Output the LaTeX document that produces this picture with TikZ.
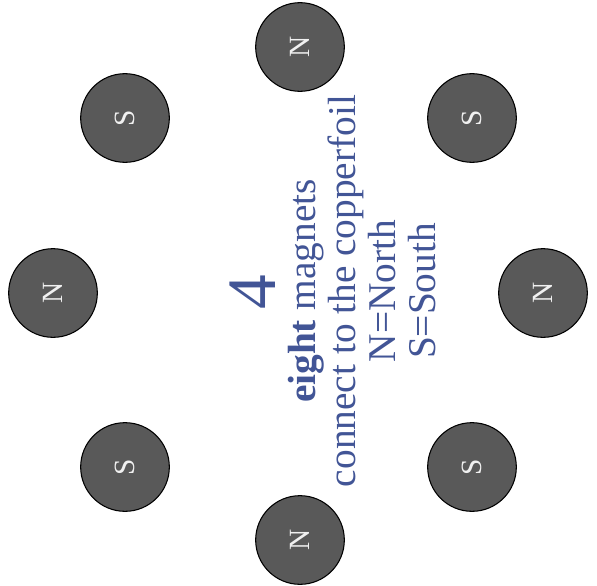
\documentclass[tikz,border=0pt]{standalone}
\usepackage{fontspec}
\setmainfont{Liberation Serif}
\definecolor{magnetgray}{RGB}{89,89,89}
\definecolor{noteblue}{RGB}{66,85,150}
\begin{document}
\begin{tikzpicture}[x=0.75pt, y=-0.75pt,
                magnet/.style={circle, draw=black, line width=0.8pt, fill=magnetgray,
                        minimum size=66.5pt, inner sep=0pt, rotate=90,
                        text=white!94!black, font=\fontsize{22}{22}\selectfont},
                note/.style={anchor=base, rotate=90, text=noteblue,
                        font=\fontsize{29.5}{29.5}\selectfont}]
                \useasboundingbox (0,0) rectangle (597,586);

                % ring of magnets
                \node[magnet] (topN) at (300, 47) {N};
                \node[magnet] (upperrightS) at (472, 118) {S};
                \node[magnet] (rightN) at (543, 293) {N};
                \node[magnet] (lowerrightS) at (472, 467) {S};
                \node[magnet] (bottomN) at (300, 540) {N};
                \node[magnet] (lowerleftS) at (125, 467) {S};
                \node[magnet] (leftN) at (53, 293) {N};
                \node[magnet] (upperleftS) at (125, 118) {S};

                % legend in the middle
                \node[note, font=\fontsize{52}{52}\selectfont] (step) at (275, 292.5) {4};
                \node[note] (count) at (315, 291) {\textbf{eight} magnets};
                \node[note] (foil) at (355, 291) {connect to the copperfoil};
                \node[note] (north) at (395, 291) {N=North};
                \node[note] (south) at (435, 291) {S=South};
            \end{tikzpicture}
\end{document}
